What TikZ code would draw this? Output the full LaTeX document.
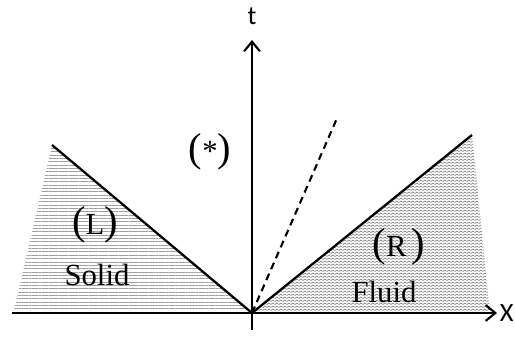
\documentclass[tikz,border=0pt]{standalone}
\usepackage{fontspec}
\setmainfont{Liberation Serif}
\newfontfamily\axisfont{Carlito}
\usepackage{tikz}
\usetikzlibrary{arrows.meta, patterns.meta}

% fine zigzag texture for the fluid side
\tikzdeclarepattern{
  name=fluidwave, type=uncolored,
  bottom left={(0pt,0pt)}, top right={(2.2pt,1.8pt)},
  tile size={(2.2pt,1.8pt)},
  code={\draw[line width=0.45pt] (0pt,0.4pt) -- (1.1pt,1.4pt) -- (2.2pt,0.4pt);}
}
\newcommand{\zonename}[1]{{\fontsize{23}{24}\selectfont(}#1{\fontsize{23}{24}\selectfont)}}

\begin{document}
\begin{tikzpicture}[
  axis/.style={-{Straight Barb[length=5.5pt, width=9pt]}, line width=1.2pt},
  front/.style={line width=1.3pt},
  contact/.style={line width=1.2pt, dash pattern=on 4pt off 2.8pt},
  solidzone/.style={pattern={Lines[angle=0, distance=1.9pt, line width=0.4pt]}, pattern color=gray!75},
  fluidzone/.style={pattern=fluidwave, pattern color=gray},
  lbl/.style={font=\fontsize{17.5}{20}\selectfont, inner sep=1pt},
  axlbl/.style={font=\axisfont\fontsize{15}{17}\selectfont, inner sep=0.5pt}
]
  \useasboundingbox (-5.04,-0.58) rectangle (5.26,6.26);

  \coordinate (O)  at (0,0);
  \coordinate (Ltop) at (-4.0,3.36);
  \coordinate (Lbot) at (-4.76,0.04);
  \coordinate (Rtop) at (4.4,3.56);
  \coordinate (Rbot) at (4.76,0);
  \coordinate (Dtop) at (1.72,3.94);

  % shaded regions
  \fill[solidzone] (Ltop) -- (O) -- (Lbot) -- cycle;
  \fill[fluidzone] (Rtop) -- (O) -- (Rbot) -- cycle;

  % axes
  \coordinate (xstart) at (-4.8,0);
  \coordinate (xend)   at (4.9,0);
  \coordinate (tstart) at (0,-0.34);
  \coordinate (tend)   at (0,5.46);
  \draw[axis] (xstart) -- (xend);
  \draw[axis] (tstart) -- (tend);
  \node[axlbl, right=1pt] (xlab) at (xend) {X};
  \node[axlbl] (tlab) at (0,5.94) {t};

  % waves
  \draw[front] (O) -- (Ltop);
  \draw[front] (O) -- (Rtop);
  \draw[contact] (O) -- (Dtop);

  \node[lbl] (star)  at (-0.84,3.22) {\zonename{*}};
  \node[lbl] (left)  at (-3.14,1.76) {\zonename{L}};
  \node[lbl] (solid) at (-3.1,0.76) {Solid};
  \node[lbl] (right) at (2.94,1.32) {\zonename{R\,}};
  \node[lbl] (fluid) at (2.64,0.42) {Fluid};
\end{tikzpicture}
\end{document}
